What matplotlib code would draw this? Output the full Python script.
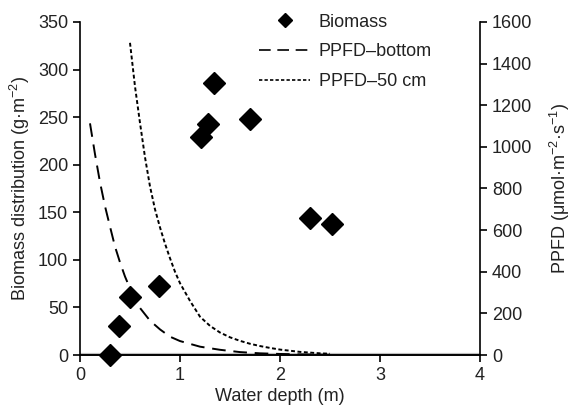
import matplotlib
matplotlib.use('Agg')
import matplotlib.pyplot as plt
from matplotlib.lines import Line2D

plt.rcParams['font.family'] = ['Liberation Sans', 'DejaVu Sans']
plt.rcParams['mathtext.fontset'] = 'custom'
plt.rcParams['mathtext.rm'] = 'Liberation Sans'
plt.rcParams['mathtext.it'] = 'Liberation Sans:italic'
plt.rcParams['font.size'] = 13

# biomass points
depth = [0.3, 0.39, 0.5, 0.79, 1.21, 1.28, 1.34, 1.7, 2.3, 2.52]
biomass = [0, 31, 61, 72, 229, 243, 286, 248, 144, 138]

# PPFD at the bottom
bot_depth = [0.1, 0.15, 0.2, 0.25, 0.3, 0.35, 0.4, 0.45, 0.5, 0.6, 0.7, 0.8,
             0.9, 1.0, 1.2, 1.4, 1.6, 1.8, 2.0, 2.2, 2.5]
bot_ppfd = [1113, 965, 830, 715, 617, 521, 445, 377, 320, 226, 165, 123,
            88, 67, 40, 25, 14, 8, 5, 3, 1]

# PPFD at 50 cm
cm50_depth = [0.5, 0.55, 0.6, 0.65, 0.7, 0.75, 0.8, 0.85, 0.9, 0.95, 1.0,
              1.1, 1.2, 1.3, 1.4, 1.5, 1.6, 1.7, 1.8, 1.9, 2.0, 2.2, 2.4, 2.5]
cm50_ppfd = [1500, 1290, 1115, 950, 810, 700, 613, 535, 465, 400, 345,
             260, 184, 140, 108, 85, 68, 54, 43, 34, 26, 15, 8, 6]

txt = '#222222'

fig = plt.figure(figsize=(5.72, 4.09), dpi=100)
ax = fig.add_axes([80/572, 54/409, 400/572, 333/409])
ax2 = ax.twinx()

ax.axhline(0, color='0.75', lw=3, zorder=0)
ax.plot(depth, biomass, 'D', color='black', ms=11, clip_on=False, zorder=5)
ax2.plot(bot_depth, bot_ppfd, color='black', lw=1.4, dashes=(7, 4))
ax2.plot(cm50_depth, cm50_ppfd, color='black', lw=1.4, dashes=(2, 1.3))

ax.set_xlim(0, 4)
ax.set_ylim(0, 350)
ax2.set_ylim(0, 1600)
ax.set_xticks([0, 1, 2, 3, 4])
ax.set_yticks(range(0, 351, 50))
ax2.set_yticks(range(0, 1601, 200))

for a in (ax, ax2):
    a.spines['top'].set_visible(False)
    for s in a.spines.values():
        s.set_linewidth(1.2)
    a.tick_params(direction='out', length=5, width=1.2, colors='black',
                  labelcolor=txt, labelsize=13)
ax2.spines['left'].set_visible(False)
ax.spines['right'].set_visible(False)

ax.set_xlabel('Water depth (m)', color=txt, fontsize=13, labelpad=3)
ax.set_ylabel(r'Biomass distribution (g·m$^{-2}$)', color=txt, fontsize=13, labelpad=4)
ax2.set_ylabel(r'PPFD (μmol·m$^{-2}$·s$^{-1}$)', color=txt, fontsize=13, labelpad=11)

handles = [
    Line2D([], [], marker='D', color='black', ls='none', ms=7),
    Line2D([], [], color='black', lw=1.2, dashes=(7, 4)),
    Line2D([], [], color='black', lw=1.2, dashes=(2, 1.3)),
]
labels = ['Biomass', 'PPFD–bottom', 'PPFD–50 cm']
fig.legend(handles, labels, loc='upper left', bbox_to_anchor=(243/572, 1.006),
           frameon=False, fontsize=13, handlelength=2.8, labelspacing=0.7,
           handletextpad=0.5, labelcolor=txt)

fig.savefig('out.png', dpi=100)
